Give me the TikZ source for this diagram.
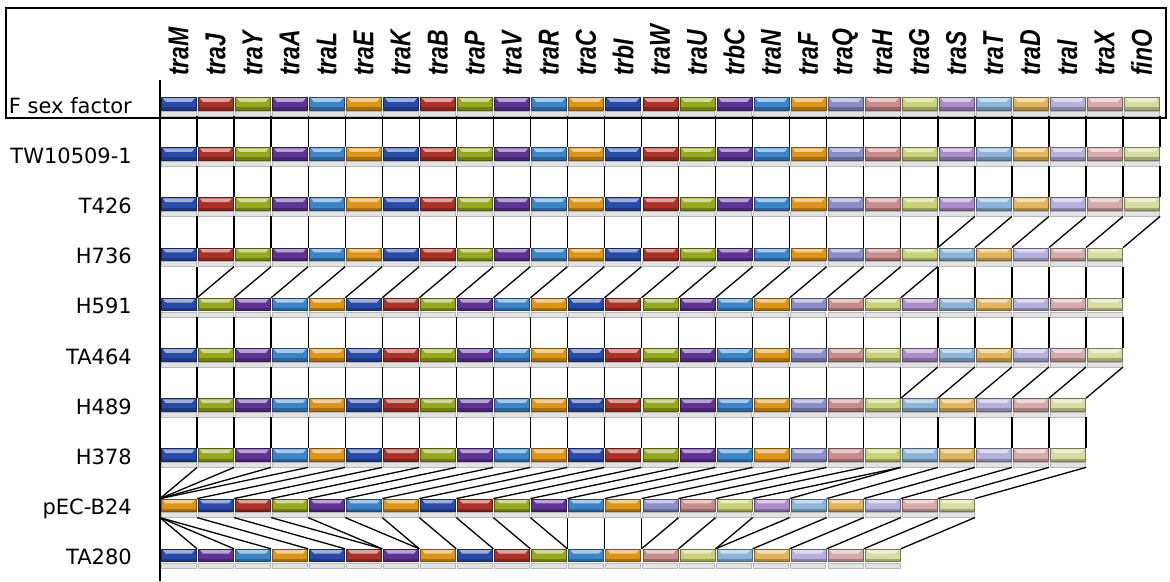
\documentclass[tikz,border=0pt]{standalone}
\usepackage{fontspec}
\setmainfont{DejaVu Sans}
\newfontfamily\genefont{Liberation Sans}
\usepackage{graphicx}
\usetikzlibrary{calc}
% strong colours, cycled over the first 18 genes
\definecolor{gblue}{RGB}{40,75,170}
\definecolor{gred}{RGB}{172,50,40}
\definecolor{ggreen}{RGB}{150,168,30}
\definecolor{gpurple}{RGB}{95,50,150}
\definecolor{gltblue}{RGB}{60,132,200}
\definecolor{gorange}{RGB}{222,148,25}
% pale colours, last 9 genes
\definecolor{pQ}{RGB}{140,140,200}
\definecolor{pH}{RGB}{200,140,140}
\definecolor{pG}{RGB}{202,210,120}
\definecolor{pS}{RGB}{170,140,200}
\definecolor{pT}{RGB}{140,180,215}
\definecolor{pD}{RGB}{226,180,92}
\definecolor{pI}{RGB}{182,176,220}
\definecolor{pX}{RGB}{215,170,170}
\definecolor{pO}{RGB}{215,220,160}
\def\genecols{{"gblue","gred","ggreen","gpurple","gltblue","gorange","gblue","gred","ggreen","gpurple","gltblue","gorange","gblue","gred","ggreen","gpurple","gltblue","gorange","pQ","pH","pG","pS","pT","pD","pI","pX","pO"}}

% one row of genes: row number, name, gene indices
\newcommand\generow[3]{%
  \pgfmathsetmacro\rtop{97+50.2*#1}
  \node[rowname] (name#1) at (132,\rtop+16) {#2};
  \foreach \g [count=\k from 0] in {#3} {
    \pgfmathsetmacro\xl{160+37.04*\k}
    \pgfmathtruncatemacro\kk{\k+1}
    \pgfmathsetmacro\gc{\genecols[\g]}
    \node[genebox=\gc] (R#1-g-\k) at (\xl+1,\rtop) {};
    \draw[strip] (\xl+1,\rtop+14) rectangle (\xl+36,\rtop+19);
    \coordinate (R#1-t-\k) at (\xl,\rtop);
    \coordinate (R#1-t-\kk) at (\xl+37.04,\rtop);
    \coordinate (R#1-b-\k) at (\xl,\rtop+19);
    \coordinate (R#1-b-\kk) at (\xl+37.04,\rtop+19);
  }}

% links from row #1 down to the next one, boundary k -> k-#4
\newcommand\linkrun[4]{%
  \pgfmathtruncatemacro\nr{#1+1}
  \foreach \k in {#2,...,#3} {
    \pgfmathtruncatemacro\kl{\k-(#4)}
    \draw[link] (R#1-b-\k) -- (R\nr-t-\kl);
  }}

\begin{document}
\begin{tikzpicture}[x=1pt,y=-1pt,
    genebox/.style={rectangle, anchor=north west, inner sep=0pt,
                    minimum width=35pt, minimum height=12.5pt,
                    fill=#1, draw=#1!55!black, line width=0.5pt,
                    path picture={
                      \fill[#1!45!white] ($(path picture bounding box.north west)+(1.5,0.8)$)
                        -- ($(path picture bounding box.north east)+(-1.5,0.8)$)
                        -- ($(path picture bounding box.north east)+(-4.5,4.5)$)
                        -- ($(path picture bounding box.north west)+(4.5,4.5)$) -- cycle;
                      \fill[#1!75!black] ($(path picture bounding box.south west)+(0,-2.5)$)
                        rectangle (path picture bounding box.south east);
                    }},
    strip/.style={fill=gray!22, draw=gray!55, line width=0.4pt},
    link/.style={line width=1.3pt, black},
    rowname/.style={anchor=base east, inner sep=0pt, font=\fontsize{21}{21}\selectfont},
    genelbl/.style={rotate=90, anchor=west, inner sep=0pt,
                    font=\genefont\bfseries\itshape\fontsize{23}{23}\selectfont}
  ]
  \fill[white] (0,0) rectangle (1170,581);
  \useasboundingbox (0,0) rectangle (1170,581);

  % gene names
  \foreach \n [count=\i from 0] in {traM,traJ,traY,traA,traL,traE,traK,traB,traP,traV,traR,traC,trbI,traW,traU,trbC,traN,traF,traQ,traH,traG,traS,traT,traD,traI,traX,finO}
    \node[genelbl] (gene\i) at ({178.5+37.04*\i},76) {\scalebox{1}[1.25]{\n}};

  % axis and frame
  \coordinate (axtop) at (160,80);
  \coordinate (axbot) at (160,581);
  \draw[line width=1.3pt] (axtop) -- (axbot);
  \draw[line width=2.4pt] (6,8) rectangle (1166,118);

  \generow{0}{F sex factor}{0,...,26}
  \generow{1}{TW10509-1}{0,...,26}
  \generow{2}{T426}{0,...,26}
  \generow{3}{H736}{0,...,20,22,23,24,25,26}
  \generow{4}{H591}{0,2,3,...,26}
  \generow{5}{TA464}{0,2,3,...,26}
  \generow{6}{H489}{0,2,3,...,20,22,23,24,25,26}
  \generow{7}{H378}{0,2,3,...,20,22,23,24,25,26}
  \generow{8}{pEC-B24}{5,...,26}
  \generow{9}{TA280}{0,3,4,5,6,7,9,11,12,13,14,16,17,19,20,22,23,24,25,26}

  % links between rows
  \linkrun{0}{0}{27}{0}
  \linkrun{1}{0}{27}{0}
  \linkrun{2}{0}{21}{0}
  \linkrun{2}{22}{27}{1}
  \linkrun{3}{0}{1}{0}
  \linkrun{3}{2}{21}{1}
  \linkrun{3}{21}{26}{0}
  \linkrun{4}{0}{26}{0}
  \linkrun{5}{0}{20}{0}
  \linkrun{5}{21}{26}{1}
  \linkrun{6}{0}{25}{0}
  \foreach \k in {0,...,4} \draw[link] (R7-b-\k) -- (R8-t-0);
  \linkrun{7}{5}{20}{4}
  \draw[link] (R7-b-20) -- (R8-t-17);
  \linkrun{7}{21}{25}{3}
  \foreach \k in {0,...,3} \draw[link] (R8-b-0) -- (R9-t-\k);
  \linkrun{8}{1}{3}{-3}
  \linkrun{8}{4}{5}{-2}
  \linkrun{8}{6}{10}{-1}
  \linkrun{8}{11}{13}{0}
  \linkrun{8}{14}{16}{1}
  \linkrun{8}{17}{22}{2}
\end{tikzpicture}
\end{document}
